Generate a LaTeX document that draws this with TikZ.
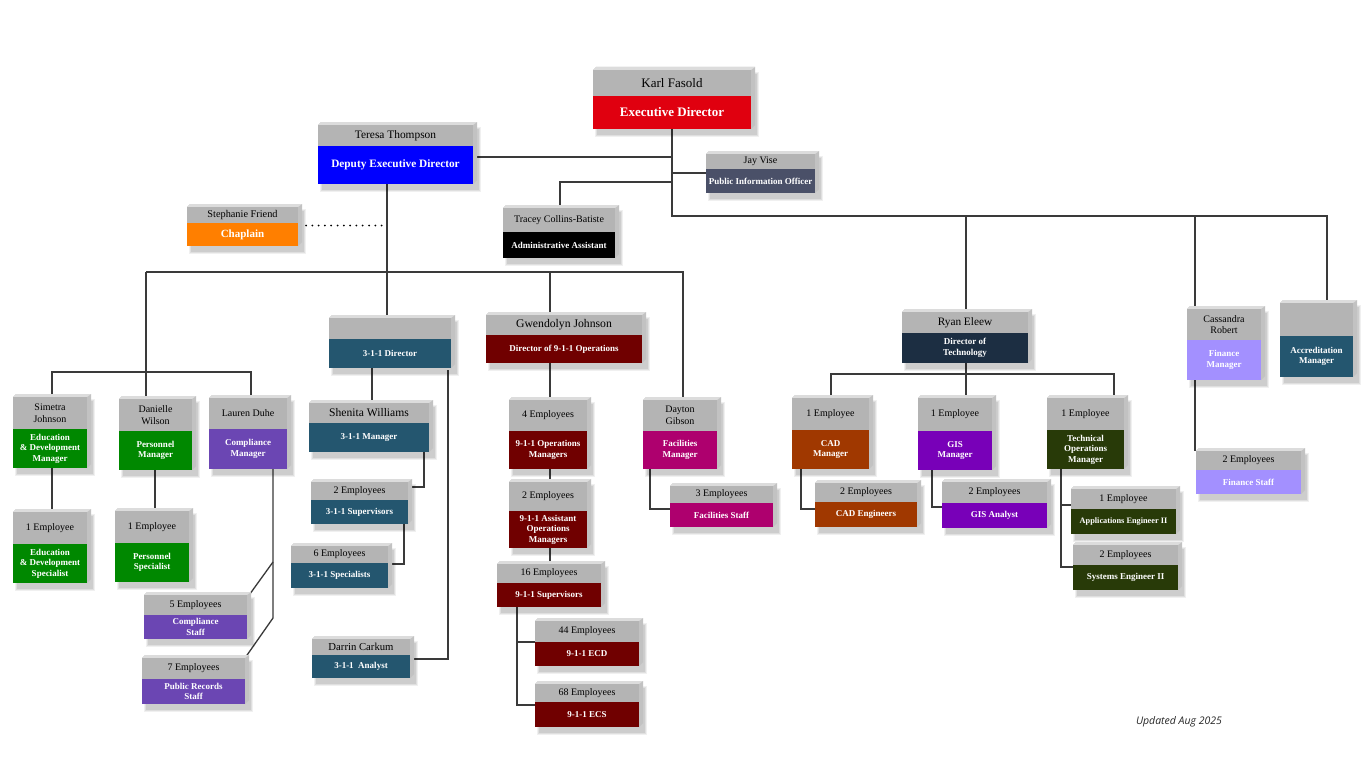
\documentclass[tikz,border=0pt]{standalone}
\usepackage{fontspec}
\setmainfont{Liberation Serif}
\newfontfamily\osans{Open Sans}
\usetikzlibrary{calc}
\pgfdeclarelayer{bg}
\pgfsetlayers{bg,main}
\definecolor{grayTop}{HTML}{B4B4B4}
\definecolor{bevT}{HTML}{DCDCDC}
\definecolor{bevR}{HTML}{C2C2C2}
\definecolor{lineC}{HTML}{3A3A3A}
\definecolor{exred}{HTML}{E0000F}
\definecolor{dblue}{HTML}{0000FF}
\definecolor{chorange}{HTML}{FF7F00}
\definecolor{slate}{HTML}{4A5068}
\definecolor{teal311}{HTML}{24566F}
\definecolor{maroon911}{HTML}{700000}
\definecolor{magfac}{HTML}{AE006E}
\definecolor{greenhr}{HTML}{008800}
\definecolor{purpcomp}{HTML}{6B46B3}
\definecolor{navytech}{HTML}{1C2E42}
\definecolor{rustcad}{HTML}{A03800}
\definecolor{purpgis}{HTML}{7800B8}
\definecolor{olivetech}{HTML}{283A08}
\definecolor{lavfin}{HTML}{A390FF}
\tikzset{
  boxnode/.style={inner sep=0pt, outer sep=0pt, draw=none},
  toptxt/.style={text=black, align=center, inner sep=0pt, font=\fontsize{10}{11.5}\selectfont},
  bottxt/.style={text=white, align=center, inner sep=0pt, font=\bfseries\fontsize{9}{10.5}\selectfont},
  conn/.style={draw=lineC, line width=1.3pt},
}
% #1 name, #2 left, #3 top, #4 right, #5 bottom, #6 split, #7 colour, #8 top text, #9 bottom text
\newcommand{\obox}[9]{%
  \fill[black,opacity=.06] (#2+2,#3+2) rectangle (#4+8,#5+8);
  \fill[black,opacity=.07] (#2+3,#3+3) rectangle (#4+7,#5+7);
  \fill[black,opacity=.08] (#2+4,#3+4) rectangle (#4+6,#5+6);
  \fill[bevR] (#2,#3) -- (#2+3,#3-3) -- (#4+4,#3-3) -- (#4+4,#5-4) -- (#4,#5) -- cycle;
  \fill[bevT] (#2,#3) -- (#2+3,#3-3) -- (#4+4,#3-3) -- (#4,#3) -- cycle;
  \fill[grayTop] (#2,#3) rectangle (#4,#6);
  \fill[#7] (#2,#6) rectangle (#4,#5);
  \node[boxnode, minimum width={#4-#2}, minimum height={#5-#3}] (#1) at ({(#2+#4)/2},{(#3+#5)/2}) {};
  \node[toptxt] (#1-n) at ({(#2+#4)/2},{(#3+#6)/2}) {#8};
  \node[bottxt] (#1-r) at ({(#2+#4)/2},{(#6+#5)/2}) {#9};
}
\begin{document}
\begin{tikzpicture}[x=1pt,y=-1pt]
\begin{pgfonlayer}{bg}
\fill[white] (0,0) rectangle (1366,768);
\end{pgfonlayer}
\useasboundingbox (0,0) rectangle (1366,768);

% ---------- boxes ----------
\obox{karl}{593}{70}{751}{129}{96}{exred}{\fontsize{13}{15}\selectfont Karl Fasold}{\fontsize{13}{15}\selectfont Executive Director}
\obox{jay}{706}{154}{815}{193}{169}{slate}{Jay Vise}{Public Information Officer}
\obox{teresa}{318}{125}{473}{184}{146}{dblue}{\fontsize{11.4}{13}\selectfont Teresa Thompson}{\fontsize{11.3}{13}\selectfont Deputy Executive Director}
\obox{steph}{187}{207}{298}{246}{223}{chorange}{\fontsize{10.3}{12}\selectfont Stephanie Friend}{\fontsize{11}{13}\selectfont Chaplain}
\obox{tracey}{503}{208}{615}{258}{232}{black}{Tracey Collins-Batiste}{Administrative Assistant}

\obox{dir311}{329}{318}{451}{368}{339}{teal311}{}{3-1-1 Director}
\obox{gwen}{486}{315}{642}{363}{335}{maroon911}{\fontsize{11.7}{13}\selectfont Gwendolyn Johnson}{Director of 9-1-1 Operations}
\obox{ryan}{902}{312}{1028}{363}{333}{navytech}{\fontsize{11.3}{13}\selectfont Ryan Eleew}{Director of\\Technology}
\obox{cass}{1187}{309}{1261}{380}{340}{lavfin}{Cassandra\\Robert}{Finance\\Manager}
\obox{accr}{1280}{303}{1353}{377}{336}{teal311}{}{Accreditation\\Manager}

\obox{simetra}{13}{397}{87}{468}{429}{greenhr}{Simetra\\Johnson}{Education\\\& Development\\Manager}
\obox{danielle}{119}{399}{192}{470}{431}{greenhr}{Danielle\\Wilson}{Personnel\\Manager}
\obox{lauren}{209}{398}{287}{469}{429}{purpcomp}{Lauren Duhe}{Compliance\\Manager}
\obox{edemp}{13}{512}{87}{583}{544}{greenhr}{1 Employee}{Education\\\& Development\\Specialist}
\obox{persemp}{115}{511}{189}{582}{543}{greenhr}{1 Employee}{Personnel\\Specialist}
\obox{compstaff}{144}{595}{247}{639}{615}{purpcomp}{5 Employees}{Compliance\\Staff}
\obox{prstaff}{142}{658}{245}{704}{679}{purpcomp}{7 Employees}{Public Records\\Staff}

\obox{shenita}{309}{403}{429}{452}{423}{teal311}{\fontsize{11.6}{13}\selectfont Shenita Williams}{3-1-1 Manager}
\obox{sup311}{311}{482}{408}{524}{500}{teal311}{2 Employees}{3-1-1 Supervisors}
\obox{spec311}{291}{546}{388}{588}{563}{teal311}{6 Employees}{3-1-1 Specialists}
\obox{darrin}{312}{639}{410}{678}{655}{teal311}{\fontsize{10.7}{12}\selectfont Darrin Carkum}{3-1-1\ \ Analyst}

\obox{ops4}{509}{400}{587}{469}{431}{maroon911}{4 Employees}{9-1-1 Operations\\Managers}
\obox{aops2}{509}{482}{587}{548}{511}{maroon911}{2 Employees}{9-1-1 Assistant\\Operations\\Managers}
\obox{sup911}{497}{564}{601}{607}{583}{maroon911}{16 Employees}{9-1-1 Supervisors}
\obox{ecd}{535}{621}{639}{666}{642}{maroon911}{44 Employees}{9-1-1 ECD}
\obox{ecs}{535}{684}{639}{727}{702}{maroon911}{68 Employees}{9-1-1 ECS}

\obox{dayton}{643}{400}{717}{469}{431}{magfac}{Dayton\\Gibson}{Facilities\\Manager}
\obox{facstaff}{670}{486}{773}{527}{503}{magfac}{3 Employees}{Facilities Staff}

\obox{cad}{792}{398}{869}{469}{430}{rustcad}{1 Employee}{CAD\\Manager}
\obox{gis}{918}{398}{992}{470}{431}{purpgis}{1 Employee}{GIS\\Manager}
\obox{techops}{1047}{398}{1124}{469}{430}{olivetech}{1 Employee}{Technical\\Operations\\Manager}
\obox{cadeng}{815}{483}{917}{527}{502}{rustcad}{2 Employees}{CAD Engineers}
\obox{gisan}{942}{482}{1047}{528}{503}{purpgis}{2 Employees}{GIS Analyst}
\obox{appeng}{1071}{489}{1176}{534}{509}{olivetech}{1 Employee}{\fontsize{8.3}{10}\selectfont Applications Engineer II}
\obox{syseng}{1073}{545}{1178}{590}{565}{olivetech}{2 Employees}{Systems Engineer II}
\obox{finstaff}{1196}{451}{1301}{494}{470}{lavfin}{2 Employees}{Finance Staff}

\node[font=\osans\itshape\fontsize{10.5}{12}\selectfont, text=black!85, inner sep=0pt] (upd) at (1179,722) {Updated Aug 2025};

% ---------- connectors ----------
\coordinate (jR) at (672,216);
\coordinate (k1) at (672,157);
\coordinate (k2) at (672,173);
\coordinate (k3) at (672,182);
\coordinate (k3b) at (560,182);
\coordinate (cs) at (1195,216);
\coordinate (ac) at (1327,216);
\coordinate (rv0) at (966,216);
\coordinate (v387) at (387,272);
\coordinate (h1) at (146,272);
\coordinate (h2) at (683,272);
\coordinate (g1) at (550,272);
\coordinate (l1) at (52,372);
\coordinate (l2) at (251,372);
\coordinate (c1) at (273,562);
\coordinate (c2) at (273,618);
\coordinate (s0) at (372,380);
\coordinate (s1) at (424,487);
\coordinate (s2) at (404,564);
\coordinate (s3) at (448,659);
\coordinate (e1) at (517,642);
\coordinate (e2) at (517,705);
\coordinate (d1) at (650,509);
\coordinate (rh1) at (831,374);
\coordinate (rh2) at (1114,374);
\coordinate (rv) at (966,374);
\coordinate (cd) at (801,509);
\coordinate (gd) at (932,507);
\coordinate (tc1) at (1061,505);
\coordinate (tc2) at (1061,567);
\coordinate (fe) at (52,490);
\coordinate (pe) at (155,490);

\begin{pgfonlayer}{bg}
% executive level
\draw[conn] (karl.south -| jR) -- (jR) -- (ac) -- (ac |- accr.north);
\draw[conn] (k1) -- (k1 -| teresa.east);
\draw[conn] (k2) -- (k2 -| jay.west);
\draw[conn] (k3) -- (k3b) -- (k3b |- tracey.north);
\draw[conn] (rv0) -- (rv0 |- ryan.north);
\draw[conn] (cs) -- (cs |- finstaff.north);
% deputy
\draw[conn] (v387 |- teresa.south) -- (v387 |- dir311.north);
\draw[line width=2pt, line cap=round, dash pattern=on 0pt off 6.3pt, black] ($(steph.east)+(8,-1)$) -- ($(steph.east -| v387)+(0,-1)$);
\draw[conn] (h1) -- (h2) -- (h2 |- dayton.north);
\draw[conn] (h1) -- (h1 |- danielle.north);
\draw[conn] (g1) -- (g1 |- gwen.north);
\draw[conn] (l1 |- simetra.north) -- (l1) -- (l2) -- (l2 |- lauren.north);
\draw[conn] (fe |- simetra.south) -- (fe |- edemp.north);
\draw[conn] (pe |- danielle.south) -- (pe |- persemp.north);
\draw[conn] (c1 |- lauren.south) -- (c2) -- (prstaff.north east);
\draw[conn] (c1) -- ($(compstaff.north east)+(0,3)$);
% 3-1-1
\draw[conn] (s0 |- dir311.south) -- (s0 |- shenita.north);
\draw[conn] (s1 |- shenita.south) -- (s1) -- (s1 -| sup311.east);
\draw[conn] (s2 |- sup311.south) -- (s2) -- (s2 -| spec311.east);
\draw[conn] ($(s3 |- dir311.south)+(0,2)$) -- (s3) -- (s3 -| darrin.east);
% 9-1-1
\draw[conn] (g1 |- gwen.south) -- (g1 |- ops4.north);
\draw[conn] (g1 |- ops4.south) -- (g1 |- aops2.north);
\draw[conn] (g1 |- aops2.south) -- (g1 |- sup911.north);
\draw[conn] (e1 |- sup911.south) -- (e2) -- (e2 -| ecs.west);
\draw[conn] (e1) -- (e1 -| ecd.west);
% facilities
\draw[conn] (d1 |- dayton.south) -- (d1) -- (d1 -| facstaff.west);
% technology
\draw[conn] (rh1 |- cad.north) -- (rh1) -- (rh2) -- (rh2 |- techops.north);
\draw[conn] (rv |- ryan.south) -- (rv |- gis.north);
\draw[conn] (cd |- cad.south) -- (cd) -- (cd -| cadeng.west);
\draw[conn] (gd |- gis.south) -- (gd) -- (gd -| gisan.west);
\draw[conn] (tc1 |- techops.south) -- (tc2) -- (tc2 -| syseng.west);
\draw[conn] (tc1) -- (tc1 -| appeng.west);
\end{pgfonlayer}
\end{tikzpicture}
\end{document}
